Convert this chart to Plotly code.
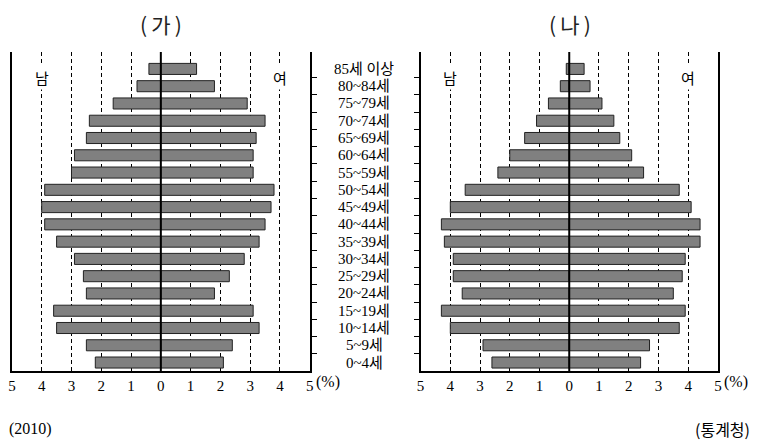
import plotly.graph_objects as go

W, H = 761, 441

ages = ["0~4세", "5~9세", "10~14세", "15~19세", "20~24세", "25~29세", "30~34세",
        "35~39세", "40~44세", "45~49세", "50~54세", "55~59세", "60~64세", "65~69세",
        "70~74세", "75~79세", "80~84세", "85세 이상"]

# (가) 2010
ga_male = [2.2, 2.5, 3.5, 3.6, 2.5, 2.6, 2.9, 3.5, 3.9, 4.0, 3.9, 3.0, 2.9, 2.5, 2.4, 1.6, 0.8, 0.4]
ga_female = [2.1, 2.4, 3.3, 3.1, 1.8, 2.3, 2.8, 3.3, 3.5, 3.7, 3.8, 3.1, 3.1, 3.2, 3.5, 2.9, 1.8, 1.2]
# (나)
na_male = [2.6, 2.9, 4.0, 4.3, 3.6, 3.9, 3.9, 4.2, 4.3, 4.0, 3.5, 2.4, 2.0, 1.5, 1.1, 0.7, 0.3, 0.1]
na_female = [2.4, 2.7, 3.7, 3.9, 3.5, 3.8, 3.9, 4.4, 4.4, 4.1, 3.7, 2.5, 2.1, 1.7, 1.5, 1.1, 0.7, 0.5]

x_ticks = [-5, -4, -3, -2, -1, 0, 1, 2, 3, 4, 5]
x_ticktext = ["5", "4", "3", "2", "1", "0", "1", "2", "3", "4", "5"]

SERIF = "Liberation Serif, Noto Sans CJK KR, serif"
SANS_KR = "Noto Sans CJK KR"
BAR_FILL = "#808080"
BAR_LINE = "#222222"

ypos = list(range(len(ages)))
bounds = [i + 0.5 for i in range(len(ages) - 1)]
yrange = [-0.49, 17.98]

fig = go.Figure()
for xa, ya, male, female in [("x", "y", ga_male, ga_female), ("x2", "y2", na_male, na_female)]:
    fig.add_trace(go.Bar(y=ypos, x=[-v for v in male], orientation="h", width=0.64,
                         marker=dict(color=BAR_FILL, line=dict(color=BAR_LINE, width=1)),
                         xaxis=xa, yaxis=ya, hoverinfo="skip"))
    fig.add_trace(go.Bar(y=ypos, x=female, orientation="h", width=0.64,
                         marker=dict(color=BAR_FILL, line=dict(color=BAR_LINE, width=1)),
                         xaxis=xa, yaxis=ya, hoverinfo="skip"))

ydom = [(441 - 371) / H, (441 - 52) / H]
xdom1 = [8 / W, 309 / W]
xdom2 = [421 / W, 721.5 / W]

xcommon = dict(range=[-5, 5], tickmode="array", tickvals=x_ticks, ticktext=x_ticktext,
               showgrid=True, gridcolor="black", gridwidth=1, griddash="4px,3px",
               zeroline=False, showline=True, linecolor="black", linewidth=1.5,
               ticks="", tickfont=dict(family=SERIF, size=15, color="black"), fixedrange=True)
ycommon = dict(range=yrange, tickmode="array", tickvals=bounds, showticklabels=False,
               showgrid=False, zeroline=False, domain=ydom, fixedrange=True)

fig.update_layout(
    width=W, height=H, margin=dict(l=0, r=0, t=0, b=0),
    paper_bgcolor="white", plot_bgcolor="white", showlegend=False, barmode="overlay",
    xaxis=dict(domain=xdom1, anchor="y", **xcommon),
    xaxis2=dict(domain=xdom2, anchor="y2", **xcommon),
    yaxis=dict(anchor="x", side="right", ticks="outside", ticklen=5, tickcolor="black",
               showline=True, mirror=True, linecolor="black", linewidth=1.5, **ycommon),
    yaxis3=dict(anchor="x", overlaying="y", side="right", ticks="inside", ticklen=5,
                tickcolor="black", showline=False, **ycommon),
    yaxis2=dict(anchor="x2", side="left", ticks="outside", ticklen=5, tickcolor="black",
                showline=True, mirror=True, linecolor="black", linewidth=1.5, **ycommon),
    yaxis4=dict(anchor="x2", overlaying="y2", side="left", ticks="inside", ticklen=5,
                tickcolor="black", showline=False, **ycommon),
)

# zero lines above bars
for xr, yr in [("x", "y domain"), ("x2", "y2 domain")]:
    fig.add_shape(type="line", xref=xr, yref=yr, x0=0, x1=0, y0=0, y1=1,
                  line=dict(color="black", width=2), layer="above")

ann = []
# category labels
for i, lab in enumerate(ages):
    ann.append(dict(text=lab, xref="paper", yref="y", x=364 / W, y=i, showarrow=False,
                    xanchor="center", yanchor="middle",
                    font=dict(family=SERIF, size=15, color="black")))
# (%) suffixes
for xr in ["x", "x2"]:
    ann.append(dict(text="(%)", xref=xr, yref="paper", x=5, y=(441 - 382) / H, xshift=4,
                    xanchor="left", yanchor="middle", showarrow=False,
                    font=dict(family=SERIF, size=16, color="black")))
# 남 / 여
for xr in ["x", "x2"]:
    ann.append(dict(text="남", xref=xr, yref="paper", x=-4, y=(441 - 78) / H, showarrow=False,
                    xanchor="center", yanchor="middle", bgcolor="white",
                    font=dict(family=SANS_KR, size=15, color="black")))
    ann.append(dict(text="여", xref=xr, yref="paper", x=4, y=(441 - 77) / H, showarrow=False,
                    xanchor="center", yanchor="middle", bgcolor="white",
                    font=dict(family=SANS_KR, size=15, color="black")))
# titles
for txt, xc in [("(\u2009가\u2009)", 159), ("(\u2009나\u2009)", 572)]:
    ann.append(dict(text=txt, xref="paper", yref="paper", x=xc / W, y=(441 - 24) / H,
                    xanchor="center", yanchor="middle", showarrow=False,
                    font=dict(family=SANS_KR, size=21, color="#222222")))
# footer
ann.append(dict(text="(2010)", xref="paper", yref="paper", x=3 / W, y=(441 - 429) / H,
                xanchor="left", yanchor="middle", showarrow=False,
                font=dict(family=SERIF, size=16, color="black")))
ann.append(dict(text="(통계청)", xref="paper", yref="paper", x=756 / W, y=(441 - 429) / H,
                xanchor="right", yanchor="middle", showarrow=False,
                font=dict(family=SANS_KR, size=16, color="black")))
fig.update_layout(annotations=ann)

fig.write_html("out.html", config={"displayModeBar": False},
               post_script="document.body.style.margin='0';document.body.style.padding='0';")
